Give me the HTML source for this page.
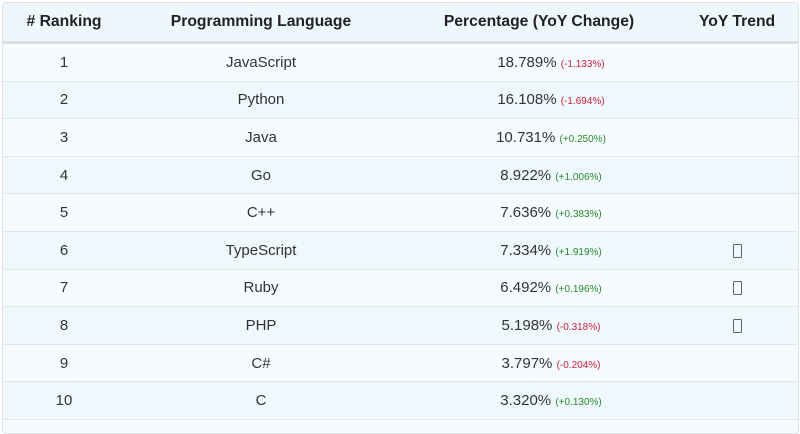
<!DOCTYPE html>
<html><head><style>
body{margin:0;width:800px;height:420px;background:#fff;overflow:hidden;font-family:"Liberation Sans",sans-serif;color:#333}
.w{position:absolute;left:2px;top:2px;width:795px;height:430px;border:1px solid #dde3e6;border-radius:3px;background:#f5fbfe;overflow:hidden}
table{border-collapse:collapse;width:795px;table-layout:fixed}
th{height:38px;font-size:15.7px;font-weight:bold;color:#222;background:#eef8fc;border-bottom:3px solid #dcdfe0;text-align:center;padding:0}
td{height:36.6px;font-size:15px;text-align:center;border-bottom:1px solid #e2e6e8;padding:0}
tr:nth-child(even) td{background:#eef8fd}
tr:nth-child(odd) td{background:#f5fbfe}
.g{color:#2a8a2a;font-size:10px}.r{color:#d0203a;font-size:10px}
.i{display:inline-block;width:7px;height:12px;border:1px solid #666;border-radius:1px;vertical-align:middle}
</style></head><body><div class="w"><table>
<colgroup><col style="width:122px"><col style="width:272px"><col style="width:308px"><col style="width:64px"><col style="width:29px"></colgroup>
<thead><tr><th># Ranking</th><th>Programming Language</th><th style="padding-right:24px">Percentage (YoY Change)</th><th style="white-space:nowrap"><span style="position:relative;left:-6px">YoY Trend</span></th><th></th></tr></thead>
<tbody>
<tr><td>1</td><td>JavaScript</td><td>18.789% <span class="r">(-1.133%)</span></td><td></td><td></td></tr>
<tr><td>2</td><td>Python</td><td>16.108% <span class="r">(-1.694%)</span></td><td></td><td></td></tr>
<tr><td>3</td><td>Java</td><td>10.731% <span class="g">(+0.250%)</span></td><td></td><td></td></tr>
<tr><td>4</td><td>Go</td><td>8.922% <span class="g">(+1.006%)</span></td><td></td><td></td></tr>
<tr><td>5</td><td>C++</td><td>7.636% <span class="g">(+0.383%)</span></td><td></td><td></td></tr>
<tr><td>6</td><td>TypeScript</td><td>7.334% <span class="g">(+1.919%)</span></td><td><span class="i"></span></td><td></td></tr>
<tr><td>7</td><td>Ruby</td><td>6.492% <span class="g">(+0.196%)</span></td><td><span class="i"></span></td><td></td></tr>
<tr><td>8</td><td>PHP</td><td>5.198% <span class="r">(-0.318%)</span></td><td><span class="i"></span></td><td></td></tr>
<tr><td>9</td><td>C#</td><td>3.797% <span class="r">(-0.204%)</span></td><td></td><td></td></tr>
<tr><td>10</td><td>C</td><td>3.320% <span class="g">(+0.130%)</span></td><td></td><td></td></tr>
</tbody></table></div></body></html>
